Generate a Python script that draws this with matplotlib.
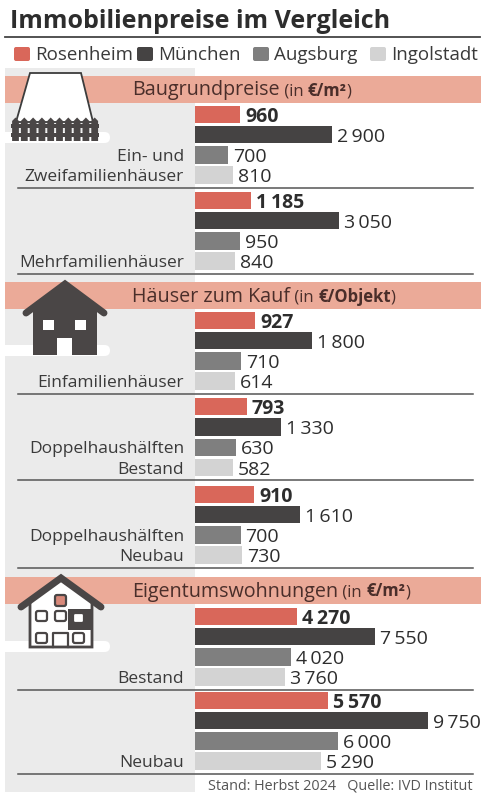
import matplotlib.pyplot as plt
from matplotlib.patches import Rectangle, FancyBboxPatch, Polygon

plt.rcParams['font.family'] = ['Open Sans', 'DejaVu Sans']

# ---- data ----
cities = ['Rosenheim', 'München', 'Augsburg', 'Ingolstadt']
city_colors = ['#d9675a', '#454343', '#7f7f7f', '#d3d3d3']

bau_labels = ['Ein- und\nZweifamilienhäuser', 'Mehrfamilienhäuser']
bau_values = [[960, 2900, 700, 810],
              [1185, 3050, 950, 840]]

haus_labels = ['Einfamilienhäuser', 'Doppelhaushälften\nBestand', 'Doppelhaushälften\nNeubau']
haus_values = [[927, 1800, 710, 614],
               [793, 1330, 630, 582],
               [910, 1610, 700, 730]]

wohn_labels = ['Bestand', 'Neubau']
wohn_values = [[4270, 7550, 4020, 3760],
               [5570, 9750, 6000, 5290]]

# ---- layout (pixels, figure is 486 x 800) ----
W, H = 486, 800
TXT = '#3a3a3a'
DARK = '#4a4646'
HEAD = '#ebaa98'
PANEL = '#ebebeb'
ROW = 20.3
BAR_X0, BAR_X1 = 195, 481

sections = [
    dict(y=76, title='Baugrundpreise', unit='€/m²', xmax=6060,
         labels=bau_labels, values=bau_values, tops=[105.5, 191.5]),
    dict(y=282, title='Häuser zum Kauf', unit='€/Objekt', xmax=4400,
         labels=haus_labels, values=haus_values, tops=[311.5, 398, 485.5]),
    dict(y=577, title='Eigentumswohnungen', unit='€/m²', xmax=11980,
         labels=wohn_labels, values=wohn_values, tops=[607.5, 691.5]),
]

fig = plt.figure(figsize=(W / 100, H / 100), dpi=100)
bg = fig.add_axes([0, 0, 1, 1])
bg.set_xlim(0, W)
bg.set_ylim(H, 0)
bg.axis('off')
renderer = fig.canvas.get_renderer()

# title + rule
bg.text(10, 28.5, 'Immobilienpreise im Vergleich', fontsize=18, weight='bold',
        color='#2d2d2d', va='baseline')
bg.plot([5, 480], [37, 37], color='#444444', lw=1.3)

# legend
leg_x = [14, 137, 253, 370]
for lx, name, c in zip(leg_x, cities, city_colors):
    bg.add_patch(FancyBboxPatch((lx, 47), 16, 14, boxstyle='round,pad=0,rounding_size=2',
                                fc=c, ec='none'))
    bg.text(lx + 21, 60, name, fontsize=13.5, color=TXT, va='baseline')

# left grey panel
bg.add_patch(Rectangle((5, 68), 190, 724, fc=PANEL, ec='none', zorder=0))


def header(y, title, unit):
    bg.add_patch(Rectangle((5, y), 476, 27, fc=HEAD, ec='none', zorder=1))
    x = 132
    base = y + 19.5
    parts = [(title, 14.2, 'normal'), (' (in ', 12, 'normal'),
             (unit, 12, 'bold'), (')', 12, 'normal')]
    for s, size, wt in parts:
        t = bg.text(x, base, s, fontsize=size, weight=wt, color='#4a2e2a',
                    va='baseline', zorder=3)
        x += t.get_window_extent(renderer).width


for sec in sections:
    header(sec['y'], sec['title'], sec['unit'])
    for lab, vals, top in zip(sec['labels'], sec['values'], sec['tops']):
        y0 = top - 1.4
        ax = fig.add_axes([BAR_X0 / W, 1 - (y0 + 4 * ROW) / H,
                           (BAR_X1 - BAR_X0) / W, 4 * ROW / H])
        ax.patch.set_alpha(0)
        ax.axis('off')
        ax.set_xlim(0, sec['xmax'])
        ax.set_ylim(3.5, -0.5)
        ax.barh(range(4), vals, height=0.86, color=city_colors)
        for i, v in enumerate(vals):
            ax.annotate(f'{v:,}'.replace(',', '\u2009'), (v, i), xytext=(3.5, 0),
                        textcoords='offset points', va='center_baseline',
                        fontsize=14, color='#2d2d2d',
                        weight='bold' if i == 0 else 'normal')
        # category label, last line on the last row
        lines = lab.split('\n')
        for k, line in enumerate(reversed(lines)):
            yc = y0 + ROW * (3.5 - k)
            bg.text(184, yc + 6, line, fontsize=12.5, color=TXT, ha='right',
                    va='baseline', zorder=3)
        bg.plot([18, 473], [top + 82, top + 82], color='#555555', lw=1.1, zorder=3)

# ---- icons ----
def ground(y):
    bg.add_patch(FancyBboxPatch((-6, y), 116, 11, boxstyle='round,pad=0,rounding_size=5.5',
                                fc='white', ec='none', zorder=2))

# plot of land with fence
ground(132)
bg.add_patch(Polygon([(30, 73), (81, 73), (93, 122), (16, 122)], closed=True,
                     fc='white', ec='#3c3c3c', lw=1.3, zorder=4))
for k in range(10):
    xc = 15.5 + k * 8.8
    bg.add_patch(Polygon([(xc - 3.4, 141), (xc - 3.4, 121), (xc, 117.5),
                          (xc + 3.4, 121), (xc + 3.4, 141)], closed=True,
                         fc=DARK, ec='none', zorder=5))
bg.add_patch(Rectangle((11, 124), 88, 4, fc=DARK, ec='none', zorder=5))
bg.add_patch(Rectangle((11, 133), 88, 4, fc=DARK, ec='none', zorder=5))

# single family house
ground(345)
bg.add_patch(Polygon([(33, 355), (33, 305), (65, 283), (97, 305), (97, 355)],
                     closed=True, fc=DARK, ec='none', zorder=4))
bg.plot([26, 65, 104], [313, 284, 313], color=DARK, lw=5, solid_capstyle='round',
        solid_joinstyle='miter', zorder=4)
for r in [(43, 320, 11, 10), (75, 320, 11, 10), (57, 338, 15, 17.5)]:
    bg.add_patch(Rectangle(r[:2], r[2], r[3], fc='white', ec='none', zorder=5))

# apartment house
ground(641)
bg.add_patch(Polygon([(30, 647), (30, 600), (61, 580), (92, 600), (92, 647)],
                     closed=True, fc='white', ec=DARK, lw=2, zorder=4))
bg.plot([21, 61, 101], [607, 578, 607], color=DARK, lw=5, solid_capstyle='round',
        solid_joinstyle='miter', zorder=4)
bg.add_patch(Rectangle((68, 609), 24, 21, fc=DARK, ec='none', zorder=5))
bg.add_patch(FancyBboxPatch((55, 595), 11, 11, boxstyle='round,pad=0,rounding_size=2',
                            fc='#d9897a', ec=DARK, lw=1.6, zorder=6))
for wx, wy in [(36, 611), (55, 611), (73, 613), (36, 633), (73, 633)]:
    bg.add_patch(FancyBboxPatch((wx, wy), 11, 10, boxstyle='round,pad=0,rounding_size=2',
                                fc='white', ec=DARK, lw=1.6, zorder=6))
bg.plot([53, 53, 68, 68], [647, 633, 633, 647], color=DARK, lw=1.6, zorder=6)

# footer
bg.text(473, 790, 'Stand: Herbst 2024   Quelle: IVD Institut', fontsize=10.4,
        color='#555555', ha='right', va='baseline')

fig.savefig('out.png', dpi=100)
